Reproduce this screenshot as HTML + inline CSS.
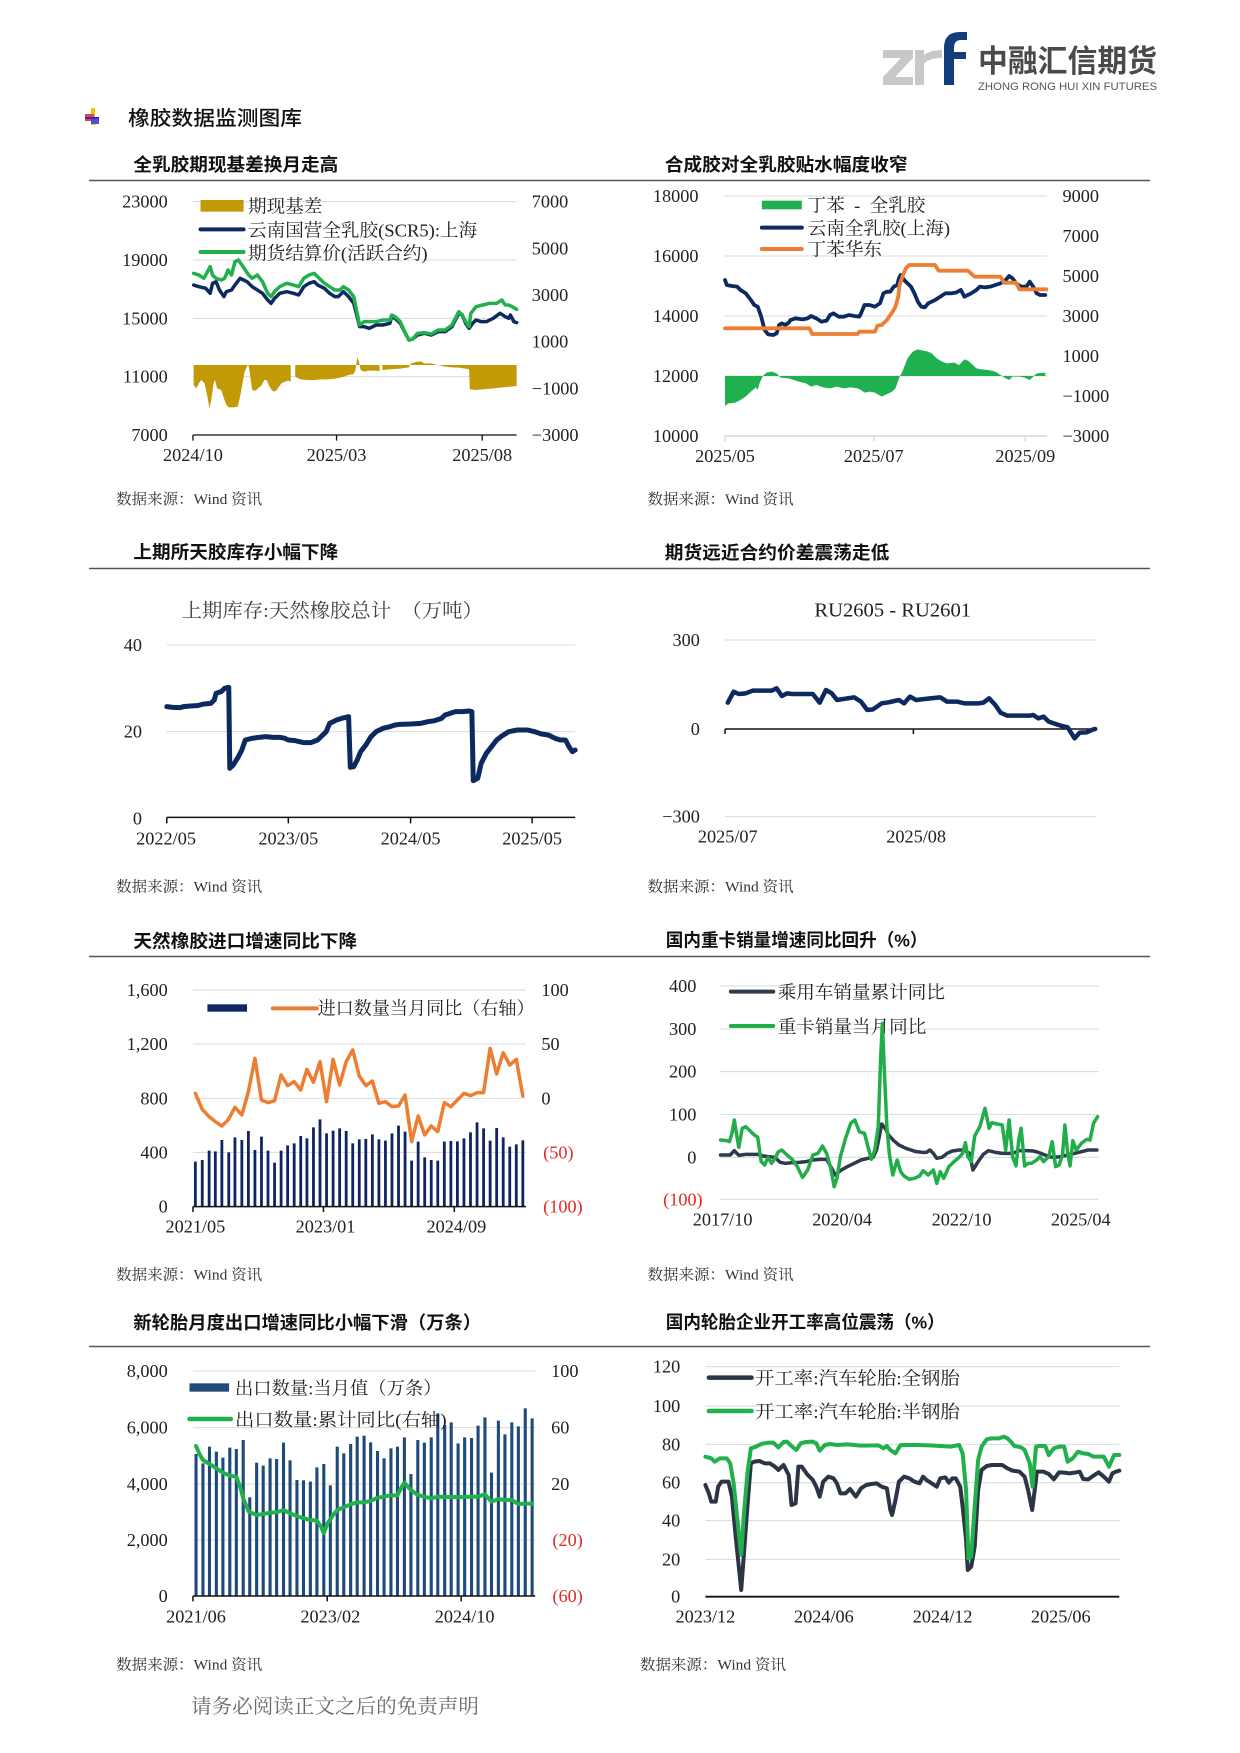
<!DOCTYPE html>
<html><head><meta charset="utf-8">
<style>
html,body{margin:0;padding:0;background:#fff;}
body{width:1240px;height:1753px;overflow:hidden;}
svg{display:block;}
.t{font-family:"Liberation Serif","Noto Serif CJK SC",serif;fill:#222;}
.h{font-family:"Liberation Sans","Noto Sans CJK SC",sans-serif;font-weight:bold;fill:#111;}
.g{stroke:#d9d9d9;stroke-width:1;}
.ln{fill:none;stroke-linejoin:round;stroke-linecap:round;}
.red{fill:#e02a2a;}
</style></head>
<body>
<svg width="1240" height="1753" viewBox="0 0 1240 1753" xmlns="http://www.w3.org/2000/svg">
<rect width="1240" height="1753" fill="#fff"/>

<!-- Logo -->
<polygon points="883,50 913,50 913,58 895,77 913,77 913,85 883,85 883,77 901,58 883,58" fill="#c8c8c8"/>
<path d="M915 50 H924 V55 Q930 50 942 50 V58 Q928 58 924 64 V85 H915 Z" fill="#c8c8c8"/>
<path d="M944 85 V48 Q944 32 960 32 H967 V40 H961 Q954 40 954 48 V52 H966 V59 H954 V85 Z" fill="#123e7c"/>
<text x="978" y="72" font-family="Liberation Sans,Noto Sans CJK SC,sans-serif" font-weight="bold" font-size="31" fill="#4a4a4a" textLength="179" lengthAdjust="spacingAndGlyphs">中融汇信期货</text>
<text x="978" y="90" font-family="Liberation Sans,sans-serif" font-size="11" fill="#555" textLength="179" lengthAdjust="spacingAndGlyphs">ZHONG RONG HUI XIN FUTURES</text>

<!-- Heading -->
<rect x="91" y="108" width="4" height="17" fill="#f2c200"/>
<rect x="85" y="114" width="9" height="7" fill="#e04060"/>
<rect x="85" y="117" width="14" height="2" fill="#3030a0"/>
<rect x="91" y="119" width="8" height="5" fill="#5050d0"/>
<text x="128" y="125" font-family="Liberation Sans,Noto Sans CJK SC,sans-serif" font-weight="500" font-size="20" fill="#111" textLength="174" lengthAdjust="spacingAndGlyphs">橡胶数据监测图库</text>

<!-- Separators -->
<line x1="89" y1="180.5" x2="1150" y2="180.5" stroke="#555" stroke-width="1.5"/>
<line x1="89" y1="568.5" x2="1150" y2="568.5" stroke="#555" stroke-width="1.5"/>
<line x1="89" y1="956.5" x2="1150" y2="956.5" stroke="#555" stroke-width="1.5"/>
<line x1="89" y1="1346.5" x2="1150" y2="1346.5" stroke="#555" stroke-width="1.5"/>

<!-- Footer -->
<text x="191" y="1713" class="t" font-size="20" style="fill:#6a6a6a" textLength="288" lengthAdjust="spacingAndGlyphs">请务必阅读正文之后的免责声明</text>

<!-- ========== Chart 1 ========== -->
<g transform="translate(80,150) scale(0.34435,0.33333)">
<text x="155" y="63" class="h" font-size="54" textLength="595" lengthAdjust="spacingAndGlyphs">全乳胶期现基差换月走高</text>
<line x1="328" y1="155" x2="1268" y2="155" class="g" vector-effect="non-scaling-stroke"/>
<line x1="328" y1="330" x2="1268" y2="330" class="g" vector-effect="non-scaling-stroke"/>
<line x1="328" y1="505" x2="1268" y2="505" class="g" vector-effect="non-scaling-stroke"/>
<line x1="328" y1="680" x2="1268" y2="680" class="g" vector-effect="non-scaling-stroke"/>
<polygon fill="#c29a06" points="330,645 330,705 338,715 345,700 352,690 362,700 370,740 376,775 382,745 388,700 392,690 398,715 410,720 418,745 425,765 432,772 445,772 458,770 465,740 472,700 478,665 485,650 488,640 492,660 500,720 510,722 520,712 528,705 535,690 542,690 548,705 555,718 562,725 570,722 578,710 585,700 595,695 605,692 612,695 612,645 625,645 625,680 640,688 660,690 680,690 700,688 720,688 740,686 760,682 780,675 795,672 800,660 805,622 810,635 815,660 825,665 840,662 860,662 870,664 870,645 878,645 878,660 900,658 930,656 955,652 960,642 975,636 990,634 1000,640 1020,640 1040,645 1060,650 1080,652 1100,653 1120,656 1130,658 1132,718 1150,720 1170,718 1200,715 1230,712 1250,710 1268,708 1268,645"/>
<polyline class="ln" stroke="#0c2a5f" stroke-width="3.5" vector-effect="non-scaling-stroke" points="330,405 345,410 365,415 378,430 385,400 395,395 405,420 418,440 425,425 440,420 450,405 465,385 475,390 485,395 500,410 515,420 530,430 545,450 555,460 565,445 580,430 600,425 620,430 635,435 650,410 665,400 680,395 690,405 710,415 725,430 740,440 750,440 765,425 780,440 795,460 805,500 812,530 825,530 840,535 860,525 880,525 900,520 905,500 915,505 930,520 945,550 955,570 965,568 980,555 1000,550 1020,555 1040,545 1060,545 1080,530 1090,510 1100,490 1110,495 1120,520 1130,535 1140,520 1150,510 1165,515 1180,515 1200,505 1220,490 1235,500 1245,505 1250,495 1260,515 1268,518"/>
<polyline class="ln" stroke="#21b04b" stroke-width="3.5" vector-effect="non-scaling-stroke" points="330,370 345,375 360,385 378,350 385,375 395,385 410,390 420,385 430,360 440,375 450,335 460,330 470,345 480,360 490,375 500,385 515,375 530,395 545,430 555,440 565,425 580,410 600,400 620,405 635,410 650,385 665,375 680,370 695,385 710,400 725,410 740,420 755,420 765,410 780,420 795,440 805,490 812,525 825,515 840,515 860,515 880,510 900,510 905,495 915,500 930,515 945,550 955,570 965,568 980,550 1000,548 1020,552 1040,540 1060,540 1080,525 1090,505 1100,485 1110,495 1120,515 1130,530 1135,490 1150,470 1170,465 1190,460 1210,460 1225,450 1235,465 1245,465 1255,470 1268,478"/>
<line x1="328" y1="855" x2="1268" y2="855" stroke="#111" stroke-width="1.3" vector-effect="non-scaling-stroke"/>
<path d="M328 855V872M745 855V872M1168 855V872" stroke="#111" stroke-width="1.3" vector-effect="non-scaling-stroke"/>
<g class="t" font-size="53" text-anchor="end">
<text x="255" y="173">23000</text><text x="255" y="348">19000</text><text x="255" y="523">15000</text><text x="255" y="698">11000</text><text x="255" y="873">7000</text>
</g>
<g class="t" font-size="53">
<text x="1312" y="173">7000</text><text x="1312" y="313">5000</text><text x="1312" y="453">3000</text><text x="1312" y="593">1000</text><text x="1312" y="733">−1000</text><text x="1312" y="873">−3000</text>
</g>
<g class="t" font-size="53" text-anchor="middle">
<text x="328" y="933">2024/10</text><text x="745" y="933">2025/03</text><text x="1168" y="933">2025/08</text>
</g>
<rect x="350" y="150" width="125" height="35" fill="#c29a06"/>
<line x1="350" y1="238" x2="475" y2="238" stroke="#0c2a5f" stroke-width="4" stroke-linecap="round" vector-effect="non-scaling-stroke"/>
<line x1="350" y1="306" x2="475" y2="306" stroke="#21b04b" stroke-width="4" stroke-linecap="round" vector-effect="non-scaling-stroke"/>
<g class="t" font-size="54">
<text x="488" y="187">期现基差</text>
<text x="488" y="259">云南国营全乳胶(SCR5):上海</text>
<text x="488" y="329">期货结算价(活跃合约)</text>
</g>
<text x="105" y="1062" class="t" font-size="45" style="fill:#333">数据来源：Wind 资讯</text>
</g>

<!-- ========== Chart 2 ========== -->
<g transform="translate(620,150) scale(0.34435,0.33333)">
<text x="130" y="63" class="h" font-size="54" textLength="705" lengthAdjust="spacingAndGlyphs">合成胶对全乳胶贴水幅度收窄</text>
<line x1="303" y1="138" x2="1240" y2="138" class="g" vector-effect="non-scaling-stroke"/>
<line x1="303" y1="318" x2="1240" y2="318" class="g" vector-effect="non-scaling-stroke"/>
<line x1="303" y1="498" x2="1240" y2="498" class="g" vector-effect="non-scaling-stroke"/>
<line x1="303" y1="678" x2="1240" y2="678" class="g" vector-effect="non-scaling-stroke"/>
<line x1="303" y1="858" x2="1240" y2="858" stroke="#cfcfcf" stroke-width="1.2" vector-effect="non-scaling-stroke"/>
<path d="M305 858V874M737 858V874M1177 858V874" stroke="#cfcfcf" stroke-width="1.2" vector-effect="non-scaling-stroke"/>
<polygon fill="#1fb14f" points="305,678 305,768 315,760 335,758 350,750 365,740 380,725 395,712 400,720 405,700 415,678 425,668 440,665 455,670 465,682 475,684 490,685 505,690 520,695 540,700 555,710 570,705 590,712 610,715 630,710 650,715 670,712 690,715 700,720 710,728 725,725 740,728 760,740 770,735 780,730 790,725 800,715 805,700 812,680 820,665 835,625 850,605 865,598 880,602 895,605 905,610 920,625 935,635 950,640 970,638 985,645 1000,628 1010,632 1020,640 1035,655 1050,658 1070,660 1090,665 1105,675 1120,685 1130,690 1140,680 1160,680 1175,683 1190,690 1200,680 1210,670 1235,668 1235,678"/>
<polyline class="ln" stroke="#0c2a5f" stroke-width="3.8" vector-effect="non-scaling-stroke" points="305,390 310,405 325,408 340,410 350,420 365,430 380,450 390,465 400,470 410,500 420,540 430,553 445,555 455,550 462,525 470,520 480,525 490,518 495,510 510,505 530,508 545,505 555,498 570,505 585,515 600,512 610,495 620,490 635,500 650,500 665,495 680,498 695,500 700,490 710,465 725,465 740,470 755,460 765,430 775,425 785,425 795,410 805,405 810,385 815,375 825,390 835,400 845,410 855,430 865,455 875,470 885,472 895,460 905,455 915,450 930,440 945,430 960,430 975,428 990,420 1000,440 1010,435 1020,430 1035,420 1045,410 1060,412 1075,410 1090,405 1105,400 1120,390 1130,378 1140,385 1150,400 1165,410 1180,410 1190,395 1200,410 1210,430 1220,435 1235,435"/>
<polyline class="ln" stroke="#ed7d31" stroke-width="3.8" vector-effect="non-scaling-stroke" points="305,535 550,535 558,552 690,552 695,545 740,545 748,527 760,525 775,510 790,488 800,470 808,440 812,405 820,380 830,355 840,345 915,345 925,362 1010,362 1030,380 1105,380 1115,398 1150,398 1160,418 1238,418"/>
<g class="t" font-size="53" text-anchor="end">
<text x="228" y="156">18000</text><text x="228" y="336">16000</text><text x="228" y="516">14000</text><text x="228" y="696">12000</text><text x="228" y="876">10000</text>
</g>
<g class="t" font-size="53">
<text x="1285" y="156">9000</text><text x="1285" y="276">7000</text><text x="1285" y="396">5000</text><text x="1285" y="516">3000</text><text x="1285" y="636">1000</text><text x="1285" y="756">−1000</text><text x="1285" y="876">−3000</text>
</g>
<g class="t" font-size="53" text-anchor="middle">
<text x="305" y="936">2025/05</text><text x="737" y="936">2025/07</text><text x="1177" y="936">2025/09</text>
</g>
<rect x="412" y="152" width="116" height="26" fill="#1fb14f"/>
<line x1="412" y1="233" x2="528" y2="233" stroke="#0c2a5f" stroke-width="4" stroke-linecap="round" vector-effect="non-scaling-stroke"/>
<line x1="412" y1="297" x2="528" y2="297" stroke="#ed7d31" stroke-width="4" stroke-linecap="round" vector-effect="non-scaling-stroke"/>
<g class="t" font-size="54">
<text x="545" y="184" xml:space="preserve">丁苯  -  全乳胶</text>
<text x="545" y="253">云南全乳胶(上海)</text>
<text x="545" y="317">丁苯华东</text>
</g>
<text x="80" y="1062" class="t" font-size="45" style="fill:#333">数据来源：Wind 资讯</text>
</g>

<!-- ========== Chart 3 ========== -->
<g transform="translate(80,530) scale(0.34435,0.33333)">
<text x="155" y="86" class="h" font-size="54" textLength="595" lengthAdjust="spacingAndGlyphs">上期所天胶库存小幅下降</text>
<text x="295" y="261" class="t" font-size="58" style="fill:#404040" textLength="875" lengthAdjust="spacingAndGlyphs">上期库存:天然橡胶总计　（万吨）</text>
<line x1="252" y1="345" x2="1438" y2="345" class="g" vector-effect="non-scaling-stroke"/>
<line x1="252" y1="605" x2="1438" y2="605" class="g" vector-effect="non-scaling-stroke"/>
<polyline class="ln" stroke="#0c2a5f" stroke-width="5" vector-effect="non-scaling-stroke" points="252,530 270,532 290,533 300,530 320,528 340,527 360,522 380,520 390,510 395,490 410,485 420,475 432,472 435,715 445,705 460,680 470,660 480,630 500,625 520,622 540,620 560,622 580,622 595,625 605,630 625,632 650,638 670,638 690,630 705,615 715,605 725,580 745,570 760,565 780,560 785,712 795,710 805,690 815,665 830,645 845,620 860,605 880,595 900,590 915,585 930,583 960,582 990,580 1010,575 1030,572 1050,565 1060,555 1075,550 1090,545 1110,545 1130,543 1138,545 1142,752 1155,745 1165,700 1180,670 1195,650 1210,630 1225,618 1245,605 1270,600 1300,600 1320,605 1340,612 1360,615 1380,625 1395,630 1410,630 1420,650 1430,665 1438,660"/>
<line x1="252" y1="862" x2="1438" y2="862" stroke="#111" stroke-width="1.5" vector-effect="non-scaling-stroke"/>
<path d="M252 862V880M605 862V880M960 862V880M1313 862V880" stroke="#111" stroke-width="1.5" vector-effect="non-scaling-stroke"/>
<g class="t" font-size="53" text-anchor="end">
<text x="180" y="363">40</text><text x="180" y="623">20</text><text x="180" y="883">0</text>
</g>
<g class="t" font-size="53" text-anchor="middle">
<text x="250" y="943">2022/05</text><text x="605" y="943">2023/05</text><text x="960" y="943">2024/05</text><text x="1313" y="943">2025/05</text>
</g>
<text x="105" y="1085" class="t" font-size="45" style="fill:#333">数据来源：Wind 资讯</text>
</g>

<!-- ========== Chart 4 ========== -->
<g transform="translate(620,530) scale(0.34435,0.33333)">
<text x="130" y="87" class="h" font-size="54" textLength="652" lengthAdjust="spacingAndGlyphs">期货远近合约价差震荡走低</text>
<text x="792" y="260" class="t" font-size="60" text-anchor="middle" textLength="455" lengthAdjust="spacingAndGlyphs">RU2605 - RU2601</text>
<line x1="305" y1="330" x2="1382" y2="330" class="g" vector-effect="non-scaling-stroke"/>
<line x1="305" y1="860" x2="1382" y2="860" class="g" vector-effect="non-scaling-stroke"/>
<line x1="305" y1="597" x2="1382" y2="597" stroke="#111" stroke-width="1.5" vector-effect="non-scaling-stroke"/>
<path d="M305 597V612M852 597V612" stroke="#111" stroke-width="1.5" vector-effect="non-scaling-stroke"/>
<polyline class="ln" stroke="#0c2a5f" stroke-width="4.5" vector-effect="non-scaling-stroke" points="313,518 330,485 345,492 365,490 385,482 440,482 455,475 470,498 485,490 500,492 560,492 580,518 598,480 615,490 630,510 680,502 700,515 718,540 735,538 760,520 780,517 810,510 825,520 842,500 860,510 900,505 930,502 950,515 980,515 1000,520 1040,520 1055,518 1072,505 1090,525 1105,548 1125,557 1190,557 1200,555 1215,565 1230,560 1245,575 1265,582 1280,587 1300,592 1320,625 1335,608 1355,607 1375,598 1380,597"/>
<g class="t" font-size="53" text-anchor="end">
<text x="232" y="348">300</text><text x="232" y="615">0</text><text x="232" y="878">−300</text>
</g>
<g class="t" font-size="53" text-anchor="middle">
<text x="313" y="938">2025/07</text><text x="860" y="938">2025/08</text>
</g>
<text x="80" y="1085" class="t" font-size="45" style="fill:#333">数据来源：Wind 资讯</text>
</g>

<!-- ========== Chart 5 ========== -->
<g transform="translate(80,920) scale(0.34435,0.33333)">
<text x="155" y="82" class="h" font-size="54" textLength="650" lengthAdjust="spacingAndGlyphs">天然橡胶进口增速同比下降</text>
<line x1="328" y1="210" x2="1295" y2="210" class="g" vector-effect="non-scaling-stroke"/>
<line x1="328" y1="372" x2="1295" y2="372" class="g" vector-effect="non-scaling-stroke"/>
<line x1="328" y1="535" x2="1295" y2="535" class="g" vector-effect="non-scaling-stroke"/>
<line x1="328" y1="697" x2="1295" y2="697" class="g" vector-effect="non-scaling-stroke"/>
<path stroke="#0f2462" stroke-width="2.8" vector-effect="non-scaling-stroke" d="M335 725V860M355 720V860M375 692V860M393 694V860M412 660V860M432 697V860M450 652V860M470 660V860M489 633V860M508 690V860M527 650V860M546 692V860M565 728V860M584 692V860M603 676V860M622 670V860M641 648V860M659 655V860M678 622V860M697 598V860M716 640V860M735 632V860M754 625V860M773 633V860M792 670V860M811 658V860M830 657V860M849 643V860M868 658V860M887 662V860M906 640V860M925 617V860M944 635V860M963 722V860M982 665V860M1001 712V860M1020 720V860M1039 722V860M1058 665V860M1077 663V860M1096 664V860M1115 655V860M1134 637V860M1153 607V860M1172 625V860M1191 662V860M1210 624V860M1229 652V860M1248 680V860M1267 673V860M1286 661V860"/>
<polyline class="ln" stroke="#ed7d31" stroke-width="3.5" vector-effect="non-scaling-stroke" points="335,520 355,568 375,590 393,605 412,618 430,600 450,562 470,585 489,515 508,415 527,540 546,548 565,542 584,465 603,497 622,485 641,510 659,448 678,487 697,425 716,545 735,418 754,495 773,425 792,390 811,468 830,497 849,483 868,550 887,545 906,560 925,558 944,525 963,665 982,588 1001,645 1020,618 1039,635 1058,548 1077,560 1096,540 1115,520 1134,527 1153,518 1172,518 1191,385 1210,462 1229,398 1248,435 1267,418 1286,528"/>
<line x1="328" y1="860" x2="1295" y2="860" stroke="#111" stroke-width="1.5" vector-effect="non-scaling-stroke"/>
<path d="M328 860V876M707 860V876M1087 860V876" stroke="#111" stroke-width="1.5" vector-effect="non-scaling-stroke"/>
<g class="t" font-size="53" text-anchor="end">
<text x="255" y="228">1,600</text><text x="255" y="390">1,200</text><text x="255" y="553">800</text><text x="255" y="715">400</text><text x="255" y="878">0</text>
</g>
<g class="t" font-size="53">
<text x="1340" y="228">100</text><text x="1340" y="390">50</text><text x="1340" y="553">0</text>
<text x="1345" y="715" class="red">(50)</text><text x="1345" y="878" class="red">(100)</text>
</g>
<g class="t" font-size="53" text-anchor="middle">
<text x="335" y="938">2021/05</text><text x="713" y="938">2023/01</text><text x="1093" y="938">2024/09</text>
</g>
<rect x="370" y="253" width="115" height="22" fill="#0f2462"/>
<line x1="560" y1="265" x2="688" y2="265" stroke="#ed7d31" stroke-width="4" stroke-linecap="round" vector-effect="non-scaling-stroke"/>
<text x="690" y="284" class="t" font-size="54" textLength="630" lengthAdjust="spacingAndGlyphs">进口数量当月同比（右轴）</text>
<text x="105" y="1079" class="t" font-size="45" style="fill:#333">数据来源：Wind 资讯</text>
</g>

<!-- ========== Chart 6 ========== -->
<g transform="translate(620,920) scale(0.34435,0.33333)">
<text x="133" y="79" class="h" font-size="54" textLength="760" lengthAdjust="spacingAndGlyphs">国内重卡销量增速同比回升（%）</text>
<line x1="290" y1="198" x2="1390" y2="198" class="g" vector-effect="non-scaling-stroke"/>
<line x1="290" y1="327" x2="1390" y2="327" class="g" vector-effect="non-scaling-stroke"/>
<line x1="290" y1="455" x2="1390" y2="455" class="g" vector-effect="non-scaling-stroke"/>
<line x1="290" y1="583" x2="1390" y2="583" class="g" vector-effect="non-scaling-stroke"/>
<line x1="290" y1="712" x2="1390" y2="712" class="g" vector-effect="non-scaling-stroke"/>
<line x1="290" y1="838" x2="1390" y2="838" class="g" vector-effect="non-scaling-stroke"/>
<line x1="322" y1="215" x2="445" y2="215" stroke="#2e3a4e" stroke-width="4" stroke-linecap="round" vector-effect="non-scaling-stroke"/>
<line x1="322" y1="318" x2="445" y2="318" stroke="#22ad4a" stroke-width="4" stroke-linecap="round" vector-effect="non-scaling-stroke"/>
<g class="t" font-size="54">
<text x="458" y="236">乘用车销量累计同比</text>
<text x="458" y="339">重卡销量当月同比</text>
</g>
<polyline class="ln" stroke="#2e3a4e" stroke-width="3.5" vector-effect="non-scaling-stroke" points="292,705 320,705 332,692 345,706 365,703 400,703 415,708 430,710 450,712 465,727 480,730 500,728 520,727 540,725 560,720 580,718 600,718 612,740 625,765 640,752 660,740 680,730 700,720 720,715 735,712 745,690 755,640 760,612 770,625 780,645 795,662 810,675 830,685 860,695 880,697 890,697 900,690 910,700 920,715 935,712 950,700 965,693 985,690 1000,690 1015,700 1025,750 1040,725 1055,703 1070,692 1090,697 1110,700 1140,700 1160,692 1180,692 1200,693 1215,697 1230,703 1245,710 1260,712 1280,710 1300,705 1320,700 1340,695 1360,690 1385,690"/>
<polyline class="ln" stroke="#22ad4a" stroke-width="3.5" vector-effect="non-scaling-stroke" points="292,660 310,662 318,665 325,640 332,600 338,640 345,682 355,625 365,620 375,630 390,645 400,652 410,725 420,735 430,712 440,730 450,715 460,695 470,690 485,705 500,718 515,740 530,772 545,750 560,705 575,700 588,678 600,700 612,745 622,800 630,775 640,710 655,655 670,610 682,600 695,635 710,640 720,680 730,718 740,690 750,620 757,412 762,310 768,460 775,620 782,700 792,765 805,720 815,755 825,768 840,778 855,775 870,768 880,752 895,765 910,750 920,790 930,755 940,775 955,740 970,725 985,712 995,700 1003,668 1010,710 1020,725 1030,648 1045,620 1060,565 1072,625 1080,608 1095,612 1110,615 1120,690 1130,600 1140,710 1150,738 1158,660 1165,625 1175,738 1185,730 1195,730 1210,720 1220,710 1230,725 1245,710 1255,665 1265,740 1275,735 1285,705 1292,615 1300,700 1307,738 1315,662 1325,690 1340,670 1355,658 1365,660 1375,610 1387,590"/>
<g class="t" font-size="53" text-anchor="end">
<text x="222" y="216">400</text><text x="222" y="345">300</text><text x="222" y="473">200</text><text x="222" y="601">100</text><text x="222" y="730">0</text>
<text x="240" y="856" class="red">(100)</text>
</g>
<g class="t" font-size="53" text-anchor="middle">
<text x="298" y="916">2017/10</text><text x="645" y="916">2020/04</text><text x="992" y="916">2022/10</text><text x="1338" y="916">2025/04</text>
</g>
<text x="80" y="1079" class="t" font-size="45" style="fill:#333">数据来源：Wind 资讯</text>
</g>

<!-- ========== Chart 7 ========== -->
<g transform="translate(80,1300) scale(0.34435,0.33333)">
<text x="155" y="87" class="h" font-size="54" textLength="1010" lengthAdjust="spacingAndGlyphs">新轮胎月度出口增速同比小幅下滑（万条）</text>
<line x1="328" y1="213" x2="1322" y2="213" class="g" vector-effect="non-scaling-stroke"/>
<line x1="328" y1="383" x2="1322" y2="383" class="g" vector-effect="non-scaling-stroke"/>
<line x1="328" y1="552" x2="1322" y2="552" class="g" vector-effect="non-scaling-stroke"/>
<line x1="328" y1="720" x2="1322" y2="720" class="g" vector-effect="non-scaling-stroke"/>
<path stroke="#1f4a7a" stroke-width="3.1" vector-effect="non-scaling-stroke" d="M337 462V888M357 490V888M376 440V888M396 455V888M415 473V888M435 443V888M454 447V888M474 420V888M493 592V888M513 488V888M532 497V888M552 475V888M571 477V888M591 428V888M610 481V888M630 540V888M649 541V888M669 545V888M688 502V888M708 492V888M727 556V888M747 440V888M766 460V888M786 432V888M805 410V888M825 407V888M844 427V888M864 453V888M883 475V888M903 445V888M922 440V888M942 412V888M961 522V888M981 420V888M1000 428V888M1020 412V888M1039 340V888M1059 375V888M1078 367V888M1098 430V888M1117 412V888M1137 414V888M1156 377V888M1176 352V888M1195 518V888M1215 362V888M1234 403V888M1254 367V888M1273 379V888M1293 325V888M1313 355V888"/>
<rect x="318" y="250" width="115" height="25" fill="#1f4a7a"/>
<line x1="318" y1="357" x2="438" y2="357" stroke="#21b04b" stroke-width="4.5" stroke-linecap="round" vector-effect="non-scaling-stroke"/>
<g class="t" font-size="54">
<text x="450" y="283" textLength="600" lengthAdjust="spacingAndGlyphs">出口数量:当月值（万条）</text>
<text x="450" y="378" textLength="615" lengthAdjust="spacingAndGlyphs">出口数量:累计同比(右轴)</text>
</g>
<polyline class="ln" stroke="#21b04b" stroke-width="4" vector-effect="non-scaling-stroke" points="337,438 347,462 357,480 376,492 396,505 415,518 435,527 454,530 465,560 474,595 490,635 513,645 532,642 552,638 571,637 591,630 610,640 630,648 649,655 669,660 688,662 700,680 708,700 718,672 735,645 747,630 766,622 786,613 805,607 825,607 844,603 864,593 883,590 903,586 922,586 932,565 942,548 961,570 981,585 1000,590 1020,595 1039,590 1059,591 1078,591 1098,591 1117,591 1137,590 1156,590 1176,583 1195,605 1215,597 1234,600 1254,600 1273,612 1293,611 1313,611"/>
<line x1="328" y1="888" x2="1322" y2="888" stroke="#111" stroke-width="1.5" vector-effect="non-scaling-stroke"/>
<path d="M328 888V904M718 888V904M1107 888V904" stroke="#111" stroke-width="1.5" vector-effect="non-scaling-stroke"/>
<g class="t" font-size="53" text-anchor="end">
<text x="255" y="231">8,000</text><text x="255" y="401">6,000</text><text x="255" y="570">4,000</text><text x="255" y="738">2,000</text><text x="255" y="906">0</text>
</g>
<g class="t" font-size="53">
<text x="1368" y="231">100</text><text x="1368" y="401">60</text><text x="1368" y="570">20</text>
<text x="1372" y="738" class="red">(20)</text><text x="1372" y="906" class="red">(60)</text>
</g>
<g class="t" font-size="53" text-anchor="middle">
<text x="337" y="968">2021/06</text><text x="727" y="968">2023/02</text><text x="1117" y="968">2024/10</text>
</g>
<text x="105" y="1109" class="t" font-size="45" style="fill:#333">数据来源：Wind 资讯</text>
</g>

<!-- ========== Chart 8 ========== -->
<g transform="translate(620,1300) scale(0.34435,0.33333)">
<text x="133" y="85" class="h" font-size="54" textLength="810" lengthAdjust="spacingAndGlyphs">国内轮胎企业开工率高位震荡（%）</text>
<line x1="248" y1="200" x2="1450" y2="200" class="g" vector-effect="non-scaling-stroke"/>
<line x1="248" y1="318" x2="1450" y2="318" class="g" vector-effect="non-scaling-stroke"/>
<line x1="248" y1="433" x2="1450" y2="433" class="g" vector-effect="non-scaling-stroke"/>
<line x1="248" y1="548" x2="1450" y2="548" class="g" vector-effect="non-scaling-stroke"/>
<line x1="248" y1="662" x2="1450" y2="662" class="g" vector-effect="non-scaling-stroke"/>
<line x1="248" y1="778" x2="1450" y2="778" class="g" vector-effect="non-scaling-stroke"/>
<line x1="258" y1="233" x2="382" y2="233" stroke="#2c3545" stroke-width="4.5" stroke-linecap="round" vector-effect="non-scaling-stroke"/>
<line x1="258" y1="333" x2="382" y2="333" stroke="#21b04b" stroke-width="4.5" stroke-linecap="round" vector-effect="non-scaling-stroke"/>
<g class="t" font-size="54">
<text x="392" y="254" textLength="595" lengthAdjust="spacingAndGlyphs">开工率:汽车轮胎:全钢胎</text>
<text x="392" y="354" textLength="595" lengthAdjust="spacingAndGlyphs">开工率:汽车轮胎:半钢胎</text>
</g>
<polyline class="ln" stroke="#2c3545" stroke-width="4" vector-effect="non-scaling-stroke" points="248,555 258,580 265,605 278,605 285,560 295,545 315,545 325,590 335,700 345,800 352,870 360,760 370,620 380,490 390,485 405,483 420,490 435,490 450,500 460,510 475,495 490,525 498,615 510,610 518,500 528,500 545,525 560,540 570,560 580,590 590,545 605,530 620,535 630,550 640,580 655,580 668,567 685,590 700,565 715,555 730,552 745,550 760,560 775,565 785,630 790,645 800,600 810,545 825,530 840,535 855,545 870,550 880,530 890,540 905,550 920,560 930,535 945,532 955,548 965,535 975,535 988,560 995,620 1005,720 1010,810 1020,800 1030,740 1040,570 1050,510 1065,498 1080,495 1100,495 1110,495 1125,505 1140,512 1160,515 1175,530 1185,570 1197,630 1208,540 1210,515 1230,515 1245,522 1260,538 1275,517 1290,518 1305,520 1320,518 1335,515 1345,537 1360,538 1375,527 1390,517 1405,530 1420,545 1430,520 1440,515 1450,512"/>
<polyline class="ln" stroke="#21b04b" stroke-width="4" vector-effect="non-scaling-stroke" points="248,470 265,475 275,485 290,475 310,475 320,490 330,550 340,650 352,765 360,640 370,520 380,445 395,440 410,432 420,430 430,428 445,428 460,442 475,426 485,425 500,440 512,450 525,430 540,426 560,425 570,430 580,452 595,435 610,432 630,435 660,433 700,437 750,436 765,445 775,438 785,450 800,460 815,435 860,435 900,436 960,440 985,435 995,460 1005,570 1012,775 1020,770 1030,620 1040,480 1050,440 1065,418 1080,415 1100,415 1115,410 1125,415 1135,425 1145,438 1165,442 1175,450 1190,490 1198,560 1208,440 1215,438 1235,438 1245,465 1260,445 1275,440 1290,440 1300,485 1315,475 1330,455 1345,460 1360,462 1375,470 1390,470 1405,470 1420,500 1435,465 1450,465"/>
<line x1="248" y1="890" x2="1450" y2="890" stroke="#111" stroke-width="1.8" vector-effect="non-scaling-stroke"/>
<g class="t" font-size="53" text-anchor="end">
<text x="175" y="218">120</text><text x="175" y="336">100</text><text x="175" y="451">80</text><text x="175" y="566">60</text><text x="175" y="680">40</text><text x="175" y="796">20</text><text x="175" y="908">0</text>
</g>
<g class="t" font-size="53" text-anchor="middle">
<text x="248" y="968">2023/12</text><text x="592" y="968">2024/06</text><text x="937" y="968">2024/12</text><text x="1280" y="968">2025/06</text>
</g>
<text x="58" y="1109" class="t" font-size="45" style="fill:#333">数据来源：Wind 资讯</text>
</g>

</svg>
</body></html>
